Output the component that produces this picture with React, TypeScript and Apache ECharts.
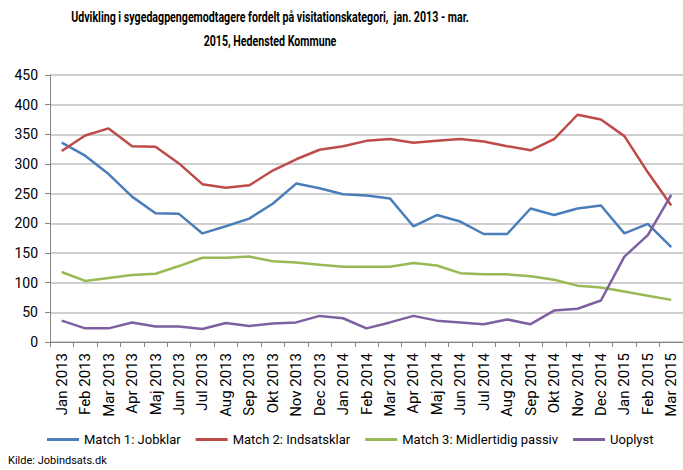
import React, { useEffect, useRef } from "react";
import * as echarts from "echarts";

const categories = [
  "Jan 2013", "Feb 2013", "Mar 2013", "Apr 2013", "Maj 2013", "Jun 2013", "Jul 2013", "Aug 2013", "Sep 2013", "Okt 2013", "Nov 2013", "Dec 2013",
  "Jan 2014", "Feb 2014", "Mar 2014", "Apr 2014", "Maj 2014", "Jun 2014", "Jul 2014", "Aug 2014", "Sep 2014", "Okt 2014", "Nov 2014", "Dec 2014",
  "Jan 2015", "Feb 2015", "Mar 2015",
];

const match1 = [336, 314, 283, 245, 217, 216, 183, 195, 208, 233, 267, 259, 249, 247, 242, 195, 214, 203, 182, 182, 225, 214, 225, 230, 183, 199, 160];
const match2 = [322, 348, 360, 330, 329, 301, 266, 260, 264, 289, 308, 324, 330, 339, 342, 336, 339, 342, 338, 330, 323, 342, 383, 375, 347, 286, 230];
const match3 = [118, 103, 108, 113, 115, 128, 142, 142, 144, 136, 134, 130, 127, 127, 127, 133, 129, 116, 114, 114, 111, 105, 95, 92, 85, 78, 71];
const uoplyst = [36, 23, 23, 33, 26, 26, 22, 32, 27, 31, 33, 44, 40, 23, 33, 44, 36, 33, 30, 38, 30, 53, 56, 70, 144, 180, 248];

const seriesNames = ["Match 1: Jobklar", "Match 2: Indsatsklar", "Match 3: Midlertidig passiv", "Uoplyst"];
const colors = ["#4A7EBB", "#BE4B48", "#98B954", "#7D60A0"];

const titleLine1 = "Udvikling i sygedagpengemodtagere fordelt på visitationskategori,  jan. 2013 - mar.";
const titleLine2 = "2015, Hedensted Kommune";
const sourceText = "Kilde: Jobindsats.dk";

const FONT = "Roboto, 'Noto Sans', sans-serif";

export default function App() {
  const ref = useRef<HTMLDivElement>(null);
  useEffect(() => {
    if (!ref.current) return;
    const chart = echarts.init(ref.current, null, { renderer: "svg" });
    const data = [match1, match2, match3, uoplyst];
    chart.setOption({
      animation: false,
      backgroundColor: "#ffffff",
      textStyle: { fontFamily: FONT },
      legend: {
        data: seriesNames,
        top: 428,
        left: 42,
        itemWidth: 32,
        itemHeight: 3,
        itemGap: 15,
        icon: "rect",
        textStyle: { fontFamily: FONT, fontSize: 13, color: "#000" },
      },
      graphic: [
        {
          type: "group",
          x: 270,
          y: 10,
          scaleX: 0.76,
          children: [
            {
              type: "text",
              x: 0,
              y: 0,
              style: { text: titleLine1, fontFamily: FONT, fontSize: 14, fontWeight: "bold", fill: "#000", textAlign: "center" },
            },
            {
              type: "text",
              x: 0,
              y: 24,
              style: { text: titleLine2, fontFamily: FONT, fontSize: 14, fontWeight: "bold", fill: "#000", textAlign: "center" },
            },
          ],
        },
        {
          type: "text",
          left: 8,
          top: 455,
          style: { text: sourceText, fontFamily: FONT, fontSize: 11, fill: "#000" },
        },
      ],
      grid: { left: 50, right: 0, top: 75, bottom: 128, containLabel: false },
      xAxis: {
        type: "category",
        data: categories,
        boundaryGap: true,
        axisLine: { show: true, lineStyle: { color: "#868686", width: 1 } },
        axisTick: { show: true, length: 5, lineStyle: { color: "#868686" } },
        axisLabel: { rotate: 90, interval: 0, fontFamily: FONT, fontSize: 15, color: "#000", margin: 11 },
      },
      yAxis: {
        type: "value",
        min: 0,
        max: 450,
        interval: 50,
        axisLine: { show: true, lineStyle: { color: "#868686", width: 1 } },
        axisTick: { show: true, length: 5, lineStyle: { color: "#868686" } },
        axisLabel: { fontFamily: FONT, fontSize: 14, color: "#000", margin: 12 },
        splitLine: { show: true, lineStyle: { color: "#BFBFBF", width: 1.5 } },
      },
      series: seriesNames.map((name, i) => ({
        name,
        type: "line",
        data: data[i],
        symbol: "none",
        lineStyle: { color: colors[i], width: 2.5 },
        itemStyle: { color: colors[i] },
      })),
    });
    return () => chart.dispose();
  }, []);
  return <div ref={ref} style={{ width: 683, height: 470, position: "absolute", left: 0, top: 0 }} />;
}
